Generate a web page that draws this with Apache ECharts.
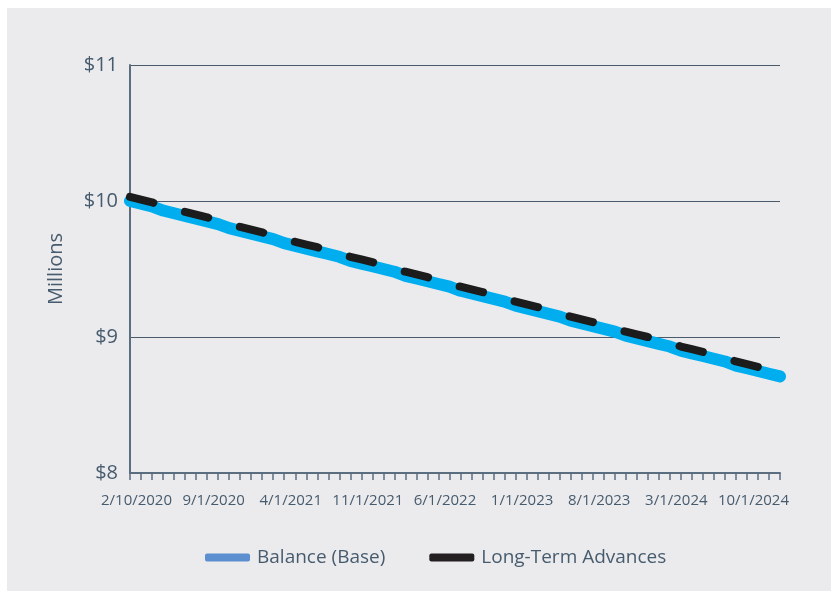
<!DOCTYPE html>
<html>
<head>
<meta charset="utf-8">
<script src="https://cdn.jsdelivr.net/npm/echarts@6/dist/echarts.min.js"></script>
<style>
  html, body { margin: 0; padding: 0; background: #ffffff; }
  #chart { width: 832px; height: 594px; }
</style>
</head>
<body>
<div id="chart"></div>
<script>
// Monthly dates, Feb 2020 through Jan 2025
const months = [
  '2/10/2020', '3/1/2020', '4/1/2020', '5/1/2020', '6/1/2020', '7/1/2020', '8/1/2020', '9/1/2020', '10/1/2020', '11/1/2020', '12/1/2020',
  '1/1/2021', '2/1/2021', '3/1/2021', '4/1/2021', '5/1/2021', '6/1/2021', '7/1/2021', '8/1/2021', '9/1/2021', '10/1/2021', '11/1/2021', '12/1/2021',
  '1/1/2022', '2/1/2022', '3/1/2022', '4/1/2022', '5/1/2022', '6/1/2022', '7/1/2022', '8/1/2022', '9/1/2022', '10/1/2022', '11/1/2022', '12/1/2022',
  '1/1/2023', '2/1/2023', '3/1/2023', '4/1/2023', '5/1/2023', '6/1/2023', '7/1/2023', '8/1/2023', '9/1/2023', '10/1/2023', '11/1/2023', '12/1/2023',
  '1/1/2024', '2/1/2024', '3/1/2024', '4/1/2024', '5/1/2024', '6/1/2024', '7/1/2024', '8/1/2024', '9/1/2024', '10/1/2024', '11/1/2024', '12/1/2024',
  '1/1/2025'
];

// Balance (Base), $ millions
const balanceBase = [
  10.00, 9.98, 9.96, 9.93, 9.91, 9.89, 9.87, 9.85, 9.83, 9.80,
  9.78, 9.76, 9.74, 9.72, 9.69, 9.67, 9.65, 9.63, 9.61, 9.59,
  9.56, 9.54, 9.52, 9.50, 9.48, 9.45, 9.43, 9.41, 9.39, 9.37,
  9.34, 9.32, 9.30, 9.28, 9.26, 9.23, 9.21, 9.19, 9.17, 9.15,
  9.12, 9.10, 9.08, 9.06, 9.04, 9.01, 8.99, 8.97, 8.95, 8.93,
  8.90, 8.88, 8.86, 8.84, 8.82, 8.79, 8.77, 8.75, 8.73, 8.71
];

// Long-Term Advances, $ millions
const longTermAdvances = [
  10.03, 10.01, 9.99, 9.96, 9.94, 9.92, 9.90, 9.88, 9.85, 9.83,
  9.81, 9.79, 9.77, 9.74, 9.72, 9.70, 9.68, 9.66, 9.63, 9.61,
  9.59, 9.57, 9.55, 9.53, 9.50, 9.48, 9.46, 9.44, 9.42, 9.39,
  9.37, 9.35, 9.33, 9.31, 9.28, 9.26, 9.24, 9.22, 9.20, 9.17,
  9.15, 9.13, 9.11, 9.09, 9.06, 9.04, 9.02, 9.00, 8.98, 8.96,
  8.93, 8.91, 8.89, 8.87, 8.85, 8.82, 8.80, 8.78, 8.76, 8.74
];

const yTicks = { min: 8, max: 11, step: 1 };

const textColor = '#475b6e';
const fontFamily = '"Open Sans", "Noto Sans", sans-serif';

const chart = echarts.init(document.getElementById('chart'), null, { renderer: 'canvas' });

chart.setOption({
  backgroundColor: '#ffffff',
  animation: false,
  textStyle: { fontFamily: fontFamily, color: textColor },
  graphic: [{
    type: 'rect',
    left: 7, top: 8,
    shape: { width: 824, height: 583 },
    style: { fill: '#ebebed' },
    z: -10,
    silent: true
  }],
  grid: { left: 130, right: 52, top: 65, bottom: 121, containLabel: false },
  legend: {
    left: 200,
    top: 543,
    itemWidth: 45,
    itemHeight: 8,
    itemGap: 44,
    icon: 'roundRect',
    textStyle: { fontSize: 19, color: textColor, fontFamily: fontFamily, padding: [0, 0, 0, 2] },
    data: [
      { name: 'Balance (Base)', itemStyle: { color: '#5b8fcf' } },
      { name: 'Long-Term Advances', itemStyle: { color: '#231f20' } }
    ]
  },
  xAxis: {
    type: 'category',
    data: months,
    boundaryGap: false,
    axisLine: { lineStyle: { color: '#5b6e80', width: 2 } },
    axisTick: { show: true, interval: 0, length: 7, lineStyle: { color: '#5b6e80', width: 1.5 } },
    axisLabel: {
      interval: 6,
      fontSize: 15,
      color: textColor,
      margin: 20,
      padding: [0, 0, 0, 13],
      fontFamily: fontFamily
    },
    splitLine: { show: false }
  },
  yAxis: {
    type: 'value',
    min: yTicks.min,
    max: yTicks.max,
    interval: yTicks.step,
    name: 'Millions',
    nameLocation: 'middle',
    nameGap: 64,
    nameRotate: 90,
    nameTextStyle: { fontSize: 20, color: textColor, fontFamily: fontFamily },
    axisLine: { show: true, lineStyle: { color: '#5b6e80', width: 2 } },
    axisTick: { show: false },
    axisLabel: {
      formatter: '${value}',
      fontSize: 20,
      color: textColor,
      margin: 12,
      padding: [0, 0, 4, 0],
      fontFamily: fontFamily
    },
    splitLine: { show: true, lineStyle: { color: '#4a5a6b', width: 1 } }
  },
  series: [
    {
      name: 'Balance (Base)',
      type: 'line',
      data: balanceBase,
      showSymbol: false,
      symbol: 'none',
      itemStyle: { color: '#5b8fcf' },
      lineStyle: { color: '#00aeef', width: 12, cap: 'round', join: 'round' },
      z: 2
    },
    {
      name: 'Long-Term Advances',
      type: 'line',
      data: longTermAdvances,
      showSymbol: false,
      symbol: 'none',
      itemStyle: { color: '#231f20' },
      lineStyle: { color: '#1c1c1c', width: 8, type: [24, 33], cap: 'round', join: 'round' },
      z: 3
    }
  ]
});
</script>
</body>
</html>
